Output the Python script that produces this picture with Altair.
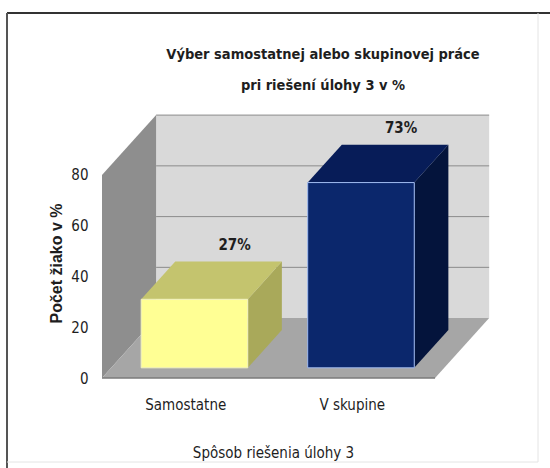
import altair as alt
import pandas as pd

# ---------------- data ----------------
CATEGORIES = ["Samostatne", "V skupine"]
VALUES = [27, 73]
VALUE_LABELS = ["27%", "73%"]
Y_TICKS = [0, 20, 40, 60, 80]
TITLE_LINES = ["Výber samostatnej alebo skupinovej práce", "pri riešení úlohy 3 v %"]
Y_TITLE = "Počet žiako v %"
X_TITLE = "Spôsob riešenia úlohy 3"

# ---------------- style ----------------
FRONT_COLORS = ["#ffff94", "#0b276c"]
TOP_COLORS = ["#c4c46e", "#071c58"]
SIDE_COLORS = ["#a9a95a", "#04143c"]
EDGE_COLORS = ["#f2f2c0", "#9fbaf0"]
NARROW = "Liberation Sans Narrow, DejaVu Sans Condensed, sans-serif"
WIDE = "Liberation Sans, Arial, sans-serif"
TXT = "#1e1e1e"

# pseudo-3D geometry (in scale units)
N = len(CATEGORIES)
DX = 0.325      # depth offset along x (category slots)
DY = 23.6       # depth offset along y (value units)
BAR_W = 0.64
T_F = 0.17      # bar front depth fraction
T_B = 0.80      # bar back depth fraction
WALL = Y_TICKS[-1]
X_MAX = N + DX + 0.005
Y_MAX = 106
PLOT_W = 388
PLOT_H = 269

XS = alt.Scale(domain=[0, X_MAX], nice=False, zero=False)
YS = alt.Scale(domain=[0, Y_MAX], nice=False, zero=False)
CS = lambda rng: alt.Scale(domain=CATEGORIES, range=rng)

label_expr = " : ".join(
    f"datum.value < {i + 1} ? '{c}'" for i, c in enumerate(CATEGORIES[:-1])
) + f" : '{CATEGORIES[-1]}'"

X_AXIS = alt.Axis(
    values=[i + 0.5 for i in range(N)], labelExpr=label_expr, grid=False,
    domain=False, ticks=False, tickSize=0, labelPadding=19,
    labelFont=NARROW, labelFontSize=15, labelColor=TXT,
    title=X_TITLE, titleFont=NARROW, titleFontSize=15, titleFontWeight="normal",
    titleColor=TXT, titleX=171, titleY=74, titleAlign="center", titleBaseline="middle",
)
Y_AXIS = alt.Axis(
    values=Y_TICKS, grid=False, domain=False, ticks=False, tickSize=0,
    labelPadding=14, labelFont=NARROW, labelFontSize=15, labelColor=TXT,
    title=Y_TITLE, titleFont=WIDE, titleFontSize=16, titleFontWeight="bold",
    titleColor=TXT, titleX=-46, titleY=154, titleAngle=270,
    titleAlign="center", titleBaseline="middle",
)


def xq(field):
    return alt.X(field, type="quantitative", scale=XS, axis=X_AXIS, stack=None)


def yq(field):
    return alt.Y(field, type="quantitative", scale=YS, axis=Y_AXIS, stack=None)


one = pd.DataFrame({"k": [0]})

# ---------------- walls & floor ----------------
back = pd.DataFrame({"x": [DX], "x2": [N + DX], "y": [DY], "y2": [WALL + DY]})
back_wall = alt.Chart(back).mark_rect(color="#d9d9d9").encode(
    x=xq("x"), x2="x2", y=yq("y"), y2="y2"
)

left = pd.DataFrame({"x": [0, DX], "y": [0, DY], "y2": [WALL, WALL + DY]})
left_wall = alt.Chart(left).mark_area(orient="vertical", color="#8e8e8e").encode(
    x=xq("x"), y=yq("y"), y2="y2"
)

fl = pd.DataFrame({"y": [0, DY], "x": [0, DX], "x2": [N, N + DX]})
floor = alt.Chart(fl).mark_area(orient="horizontal", color="#a6a6a6").encode(
    y=yq("y"), x=xq("x"), x2="x2"
)

front_edge = alt.Chart(pd.DataFrame({"x": [0], "x2": [N], "y": [0]})).mark_rule(
    color="#7a7a7a", strokeWidth=1.5
).encode(x=xq("x"), x2="x2", y=yq("y"))

grid = pd.DataFrame({"y": [t + DY for t in Y_TICKS[1:]], "x": DX, "x2": N + DX})
grid_lines = alt.Chart(grid).mark_rule(color="#8c8c8c", strokeWidth=1).encode(
    x=xq("x"), x2="x2", y=yq("y")
)

# ---------------- bars ----------------
front_rows, top_rows, side_rows, lab_rows = [], [], [], []
for i, (c, v, lab) in enumerate(zip(CATEGORIES, VALUES, VALUE_LABELS)):
    x0 = i + 0.5 - BAR_W / 2
    x1 = i + 0.5 + BAR_W / 2
    front_rows.append({"cat": c, "x": x0 + T_F * DX, "x2": x1 + T_F * DX,
                       "y": T_F * DY, "y2": v + T_F * DY})
    for t in (T_F, T_B):
        top_rows.append({"cat": c, "y": v + t * DY, "x": x0 + t * DX, "x2": x1 + t * DX})
        side_rows.append({"cat": c, "x": x1 + t * DX, "y": t * DY, "y2": v + t * DY})
    lab_rows.append({"cat": c, "x": i + 0.5 + T_B * DX, "y": v + T_B * DY, "label": lab})

side = alt.Chart(pd.DataFrame(side_rows)).mark_area(orient="vertical").encode(
    x=xq("x"), y=yq("y"), y2="y2", detail="cat:N",
    color=alt.Color("cat:N", scale=CS(SIDE_COLORS), legend=None),
)
top = alt.Chart(pd.DataFrame(top_rows)).mark_area(orient="horizontal").encode(
    y=yq("y"), x=xq("x"), x2="x2", detail="cat:N",
    color=alt.Color("cat:N", scale=CS(TOP_COLORS), legend=None),
)
front = alt.Chart(pd.DataFrame(front_rows)).mark_rect(strokeWidth=1).encode(
    x=xq("x"), x2="x2", y=yq("y"), y2="y2",
    color=alt.Color("cat:N", scale=CS(FRONT_COLORS), legend=None),
    stroke=alt.Stroke("cat:N", scale=CS(EDGE_COLORS), legend=None),
)
labels = alt.Chart(pd.DataFrame(lab_rows)).mark_text(
    font=NARROW, fontSize=15, fontWeight="bold", color=TXT,
    baseline="bottom", dy=-9, dx=6,
).encode(x=xq("x"), y=yq("y"), text="label:N")

# ---------------- title & frame ----------------
title1 = alt.Chart(one).mark_text(
    font=NARROW, fontSize=14.5, fontWeight="bold", color=TXT, baseline="middle"
).encode(x=alt.value(221), y=alt.value(-54), text=alt.value(TITLE_LINES[0]))
title2 = alt.Chart(one).mark_text(
    font=NARROW, fontSize=14.5, fontWeight="bold", color=TXT, baseline="middle"
).encode(x=alt.value(221), y=alt.value(-23), text=alt.value(TITLE_LINES[1]))

frame_top = alt.Chart(one).mark_rule(color="#333333", strokeWidth=2).encode(
    x=alt.value(-95), x2=alt.value(448), y=alt.value(-96))
frame_left = alt.Chart(one).mark_rule(color="#555555", strokeWidth=2).encode(
    x=alt.value(-95), y=alt.value(-96), y2=alt.value(359))
frame_right = alt.Chart(one).mark_rule(color="#e4e4e4", strokeWidth=1).encode(
    x=alt.value(436), y=alt.value(-96), y2=alt.value(353))
frame_bottom = alt.Chart(one).mark_rule(color="#e4e4e4", strokeWidth=1).encode(
    x=alt.value(-95), x2=alt.value(436), y=alt.value(353))

chart = alt.layer(
    back_wall, grid_lines, left_wall, floor, front_edge,
    side, top, front, labels,
    title1, title2, frame_top, frame_left, frame_right, frame_bottom,
).resolve_scale(
    color="independent", stroke="independent"
).properties(
    width=PLOT_W, height=PLOT_H, background="white",
    autosize=alt.AutoSizeParams(type="none"),
    padding={"left": 102, "top": 109, "right": 60, "bottom": 90},
).configure_view(strokeWidth=0, stroke="transparent")

chart.save("out.html", embed_options={"renderer": "svg", "actions": False})
